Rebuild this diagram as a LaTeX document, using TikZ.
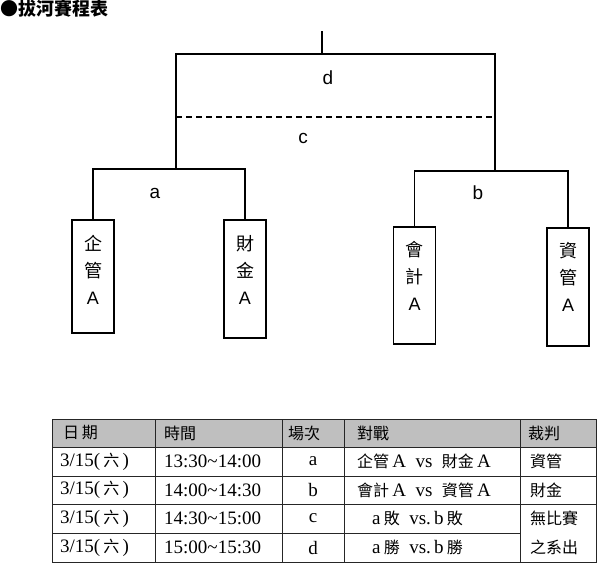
\documentclass[tikz,border=0pt]{standalone}
\usepackage{fontspec}
\setmainfont{Liberation Serif}
\setsansfont{Liberation Sans}
\newfontfamily\cjk{Noto Sans CJK TC}
\newfontfamily\tser{Liberation Serif}
\newcommand{\tcj}[1]{{\cjk\fontsize{16}{16}\selectfont #1}}
\begin{document}
\begin{tikzpicture}[x=1pt,y=-1pt,
  team/.style={draw, line width=1.6pt, minimum width=42pt, inner sep=0pt},
  brk/.style={line width=1.6pt},
  lbl/.style={font=\sffamily\fontsize{19}{19}\selectfont, inner sep=0pt},
  boxtxt/.style={align=center, inner sep=0pt, font=\fontsize{18}{27}\selectfont},
  cellw/.style={anchor=west, inner sep=0pt, font=\tser\fontsize{19}{19}\selectfont},
  cellc/.style={inner sep=0pt, font=\tser\fontsize{19}{19}\selectfont},
  grid/.style={line width=0.9pt, black!85}]
\useasboundingbox (0,0) rectangle (600,565);

% title
\node[anchor=west, inner sep=0pt, font=\cjk\bfseries\fontsize{18}{18}\selectfont] (title) at (0,9) {●拔河賽程表};

% team boxes
\node[team, minimum height=113pt] (b1) at (93,276.5) {};
\node[team, minimum height=118pt] (b2) at (245,279) {};
\node[team, minimum height=117pt] (b3) at (414.5,285.5) {};
\node[team, minimum height=118pt] (b4) at (568,287) {};

\node[boxtxt] (t1) at (93,270) {{\cjk 企}\\{\cjk 管}\\{\sffamily\fontsize{18}{18}\selectfont A}};
\node[boxtxt] (t2) at (245,270) {{\cjk 財}\\{\cjk 金}\\{\sffamily\fontsize{18}{18}\selectfont A}};
\node[boxtxt] (t3) at (414.5,275.5) {{\cjk 會}\\{\cjk 計}\\{\sffamily\fontsize{18}{18}\selectfont A}};
\node[boxtxt] (t4) at (568,277) {{\cjk 資}\\{\cjk 管}\\{\sffamily\fontsize{18}{18}\selectfont A}};

% bracket
\coordinate (ja) at (176,169);
\coordinate (jb) at (495,171);
\coordinate (jd) at (322,54);
\coordinate (tp) at (322,31);
\coordinate (cl) at (176,117);
\coordinate (cr) at (495,117);

\draw[brk] (b1.north) |- (ja) -| (b2.north);
\draw[brk] (b3.north) |- (jb) -| (b4.north);
\draw[brk] (ja) |- (jd) -| (jb);
\draw[line width=1.2pt] (jd) -- (tp);
\draw[line width=1.3pt, dash pattern=on 6pt off 4pt] (cl) -- (cr);

\node[lbl] (la) at (155,193) {a};
\node[lbl] (lb) at (478,193) {b};
\node[lbl] (lc) at (303,138) {c};
\node[lbl] (ld) at (328,78) {d};

% table
\fill[black!25] (52,419) rectangle (596,447);
\draw[grid] (52,419) rectangle (596,562);
\foreach \yy in {447,476,504} \draw[grid] (52,\yy) -- (596,\yy);
\draw[grid] (52,533) -- (520,533);
\foreach \xx in {155,282,344,520} \draw[grid] (\xx,419) -- (\xx,562);

\node[cellw] (h1) at (63,433) {\tcj{日\,期}};
\node[cellw] (h2) at (164,433) {\tcj{時間}};
\node[cellw] (h3) at (288,433) {\tcj{場次}};
\node[cellw] (h4) at (357,433) {\tcj{對戰}};
\node[cellw] (h5) at (528,433) {\tcj{裁判}};

\node[cellw] (d1) at (60,461.5) {3/15(\,\tcj{六}\,)};
\node[cellw] (d2) at (60,490) {3/15(\,\tcj{六}\,)};
\node[cellw] (d3) at (60,518.5) {3/15(\,\tcj{六}\,)};
\node[cellw] (d4) at (60,547.5) {3/15(\,\tcj{六}\,)};

\node[cellw] (s1) at (164,461.5) {13:30\textasciitilde14:00};
\node[cellw] (s2) at (164,490) {14:00\textasciitilde14:30};
\node[cellw] (s3) at (164,518.5) {14:30\textasciitilde15:00};
\node[cellw] (s4) at (164,547.5) {15:00\textasciitilde15:30};

\node[cellc] (g1) at (313,461.5) {a};
\node[cellc] (g2) at (313,490) {b};
\node[cellc] (g3) at (313,518.5) {c};
\node[cellc] (g4) at (313,547.5) {d};

\node[cellw] (m1) at (357,461.5) {\tcj{企管}\,A\enspace vs\enspace\tcj{財金}\,A};
\node[cellw] (m2) at (357,490) {\tcj{會計}\,A\enspace vs\enspace\tcj{資管}\,A};
\node[cellw] (m3) at (372,518.5) {a\,\tcj{敗}\enspace vs.\,b\,\tcj{敗}};
\node[cellw] (m4) at (372,547.5) {a\,\tcj{勝}\enspace vs.\,b\,\tcj{勝}};

\node[cellw] (r1) at (530,461.5) {\tcj{資管}};
\node[cellw] (r2) at (530,490) {\tcj{財金}};
\node[cellw] (r3) at (530,518.5) {\tcj{無比賽}};
\node[cellw] (r4) at (530,547.5) {\tcj{之系出}};
\end{tikzpicture}
\end{document}
